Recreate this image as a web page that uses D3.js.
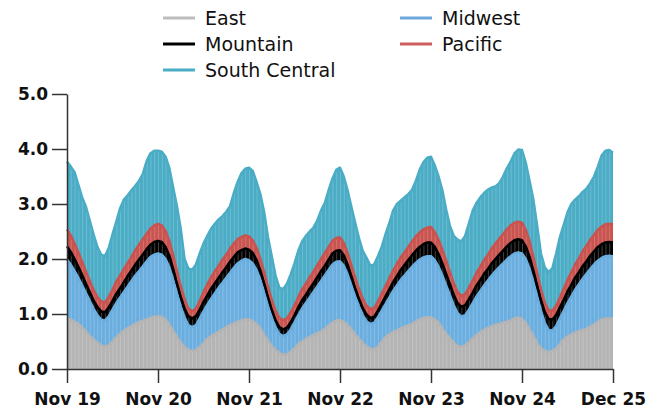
<!DOCTYPE html>
<html><head><meta charset="utf-8">
<script src="https://cdn.jsdelivr.net/npm/d3@7"></script>
<style>body{margin:0;background:#fff}svg{display:block}</style>
</head><body>
<svg id="chart" width="659" height="414"></svg>
<script>
const seriesNames = ["East", "Midwest", "Mountain", "Pacific", "South Central"];
const fillColors = ["#b4b4b4", "#6aaee0", "#000000", "#c9534f", "#4aacc5"];
const legendColors = ["#bdbdbd", "#6fa8dc", "#000000", "#cd5c5c", "#4bacc6"];
const tickHours = [0, 24, 48, 72, 96, 120, 144];
const tickLabels = ["Nov 19", "Nov 20", "Nov 21", "Nov 22", "Nov 23", "Nov 24", "Dec 25"];
const yTicks = [0, 1, 2, 3, 4, 5];

const east = [
0.92,0.9,0.86,0.82,0.76,0.68,0.6,0.54,0.48,0.43,0.41,0.43,0.5,0.58,0.64,0.7,0.74,0.78,0.82,0.85,0.88,0.9,0.93,0.95,
0.96,0.95,0.9,0.8,0.7,0.58,0.48,0.4,0.35,0.33,0.34,0.4,0.47,0.55,0.6,0.64,0.68,0.72,0.76,0.8,0.83,0.86,0.89,0.9,
0.9,0.87,0.82,0.74,0.62,0.52,0.42,0.35,0.29,0.26,0.27,0.31,0.38,0.45,0.5,0.55,0.58,0.62,0.65,0.68,0.73,0.79,0.84,0.88,
0.89,0.86,0.8,0.72,0.63,0.55,0.47,0.41,0.37,0.36,0.4,0.5,0.58,0.63,0.67,0.7,0.74,0.77,0.79,0.82,0.86,0.9,0.93,0.94,
0.94,0.9,0.84,0.74,0.64,0.56,0.48,0.42,0.4,0.43,0.49,0.56,0.62,0.67,0.71,0.75,0.78,0.8,0.82,0.84,0.86,0.88,0.92,0.94,
0.91,0.84,0.72,0.6,0.47,0.38,0.33,0.31,0.33,0.37,0.45,0.54,0.59,0.63,0.66,0.69,0.71,0.73,0.77,0.81,0.86,0.9,0.92,0.92,0.92];
const midwest = [
1.07,1.0,0.92,0.84,0.76,0.7,0.64,0.56,0.5,0.47,0.47,0.53,0.58,0.62,0.66,0.7,0.76,0.82,0.88,0.93,0.99,1.06,1.11,1.13,
1.14,1.13,1.1,1.05,0.92,0.8,0.66,0.54,0.45,0.43,0.46,0.52,0.58,0.62,0.68,0.74,0.8,0.85,0.9,0.95,1.01,1.06,1.08,1.1,
1.08,1.05,0.98,0.88,0.78,0.64,0.52,0.41,0.35,0.34,0.36,0.41,0.47,0.53,0.6,0.65,0.72,0.78,0.85,0.92,0.97,1.01,1.06,1.07,
1.07,1.02,0.92,0.8,0.69,0.59,0.51,0.46,0.45,0.48,0.54,0.56,0.6,0.67,0.75,0.82,0.88,0.93,0.99,1.04,1.07,1.09,1.1,1.11,
1.11,1.08,1.02,0.96,0.88,0.78,0.68,0.6,0.55,0.55,0.59,0.64,0.7,0.75,0.81,0.86,0.92,0.98,1.03,1.08,1.13,1.17,1.18,1.18,
1.19,1.16,1.1,0.98,0.85,0.68,0.51,0.4,0.37,0.41,0.47,0.52,0.61,0.69,0.78,0.85,0.93,1.0,1.05,1.09,1.11,1.12,1.13,1.14,1.13];
const mountain = [
0.24,0.23,0.22,0.2,0.19,0.17,0.16,0.15,0.15,0.15,0.15,0.16,0.16,0.17,0.17,0.18,0.19,0.19,0.2,0.21,0.21,0.22,0.22,0.23,
0.23,0.23,0.22,0.21,0.2,0.18,0.17,0.16,0.16,0.16,0.16,0.16,0.17,0.17,0.18,0.18,0.18,0.19,0.19,0.2,0.2,0.2,0.19,0.19,
0.19,0.19,0.18,0.17,0.16,0.15,0.14,0.13,0.12,0.12,0.12,0.13,0.13,0.14,0.15,0.15,0.16,0.16,0.17,0.18,0.18,0.19,0.2,0.2,
0.2,0.19,0.18,0.17,0.15,0.14,0.13,0.12,0.11,0.11,0.12,0.13,0.14,0.15,0.16,0.17,0.18,0.19,0.2,0.21,0.22,0.23,0.24,0.25,
0.25,0.24,0.23,0.22,0.21,0.2,0.19,0.18,0.18,0.18,0.19,0.19,0.2,0.2,0.21,0.21,0.22,0.22,0.23,0.23,0.24,0.24,0.24,0.24,
0.24,0.23,0.22,0.21,0.2,0.2,0.2,0.2,0.2,0.2,0.2,0.2,0.21,0.21,0.22,0.22,0.23,0.23,0.24,0.24,0.25,0.25,0.25,0.25,0.25];
const pacific = [
0.31,0.3,0.28,0.26,0.24,0.22,0.2,0.19,0.18,0.18,0.18,0.19,0.2,0.22,0.23,0.24,0.24,0.25,0.26,0.27,0.28,0.28,0.29,0.3,
0.31,0.3,0.29,0.27,0.25,0.22,0.2,0.17,0.14,0.13,0.14,0.16,0.18,0.2,0.21,0.22,0.22,0.23,0.23,0.24,0.24,0.24,0.24,0.24,
0.24,0.23,0.22,0.21,0.2,0.19,0.18,0.17,0.17,0.17,0.17,0.18,0.18,0.19,0.2,0.2,0.21,0.21,0.22,0.22,0.23,0.23,0.23,0.23,
0.23,0.22,0.21,0.2,0.19,0.18,0.17,0.16,0.16,0.16,0.17,0.18,0.19,0.2,0.21,0.22,0.23,0.23,0.24,0.25,0.26,0.26,0.27,0.27,
0.28,0.27,0.26,0.25,0.24,0.22,0.21,0.2,0.2,0.2,0.21,0.22,0.23,0.24,0.25,0.26,0.27,0.28,0.29,0.3,0.31,0.32,0.32,0.32,
0.32,0.3,0.28,0.25,0.22,0.19,0.17,0.16,0.16,0.17,0.18,0.2,0.21,0.23,0.24,0.25,0.27,0.28,0.29,0.3,0.31,0.32,0.33,0.33,0.33];
const southCentral = [
1.23,1.25,1.3,1.23,1.17,1.18,1.1,1.01,0.91,0.85,0.84,0.89,1.01,1.09,1.22,1.26,1.23,1.21,1.17,1.16,1.19,1.32,1.37,1.36,
1.33,1.34,1.35,1.32,1.23,1.18,1.04,0.73,0.73,0.75,0.8,0.86,0.88,0.88,0.88,0.86,0.84,0.79,0.78,0.77,0.92,1.04,1.16,1.21,
1.25,1.26,1.2,1.18,1.09,0.9,0.79,0.64,0.55,0.56,0.63,0.69,0.76,0.84,0.87,0.87,0.83,0.8,0.81,0.88,0.91,1.03,1.13,1.24,
1.27,1.21,1.14,1.06,1.0,0.92,0.87,0.87,0.79,0.79,0.82,0.85,0.94,1.0,1.09,1.09,1.03,1.0,0.96,0.94,1.01,1.14,1.22,1.27,
1.28,1.21,1.15,1.08,0.93,0.84,0.86,0.95,0.99,1.06,1.17,1.27,1.27,1.26,1.22,1.18,1.11,1.04,1.01,1.05,1.11,1.16,1.26,1.31,
1.32,1.22,1.1,1.04,0.86,0.65,0.64,0.69,0.77,0.95,1.1,1.16,1.23,1.24,1.18,1.13,1.08,1.04,1.03,1.06,1.15,1.29,1.34,1.34,1.3];

const seriesValues = [east, midwest, mountain, pacific, southCentral];
const rows = east.map((_, i) => {
  const r = { hour: i };
  seriesNames.forEach((n, k) => r[n] = seriesValues[k][i]);
  return r;
});

const svg = d3.select("#chart");
const x = d3.scaleLinear().domain([0, 144]).range([67, 613]);
const y = d3.scaleLinear().domain([0, 5]).range([369, 94]);

const stack = d3.stack().keys(seriesNames);
const layers = stack(rows);

const area = d3.area().x(d => x(d.data.hour)).y0(d => y(d[0])).y1(d => y(d[1]));
const line = d3.line().x(d => x(d.data.hour)).y(d => y(d[1]));

const plot = svg.append("g");
layers.forEach((layer, k) => {
  plot.append("path").attr("d", area(layer)).attr("fill", fillColors[k]);
});
// hourly bar stripes
layers.forEach((layer, k) => {
  plot.append("g").selectAll("line").data(layer.slice(1, 144)).join("line")
    .attr("x1", d => x(d.data.hour) + 0.5).attr("x2", d => x(d.data.hour) + 0.5)
    .attr("y1", d => y(d[0])).attr("y2", d => y(d[1]))
    .attr("stroke", "#ffffff").attr("stroke-opacity", k === 2 ? 0.25 : 0.2).attr("stroke-width", 1);
});
layers.forEach((layer, k) => {
  plot.append("path").attr("d", line(layer)).attr("fill", "none")
    .attr("stroke", fillColors[k]).attr("stroke-width", 2.5).attr("stroke-linejoin", "round");
});

// axes
const xAxis = d3.axisBottom(x).tickValues(tickHours).tickFormat((d, i) => tickLabels[i])
  .tickSize(14).tickPadding(10).tickSizeOuter(0);
const gx = svg.append("g").attr("transform", "translate(0,369)").call(xAxis);
const yAxis = d3.axisLeft(y).tickValues(yTicks).tickFormat(d3.format(".1f"))
  .tickSize(15).tickPadding(4).tickSizeOuter(0);
const gy = svg.append("g").attr("transform", "translate(67,0)").call(yAxis);
[gx, gy].forEach(g => {
  g.selectAll("path,line").attr("stroke", "#333").attr("stroke-width", 1.5);
  g.selectAll("text").attr("fill", "#111").style("font-family", "DejaVu Sans")
    .style("font-size", "17px").style("font-weight", "bold");
});

// legend
const legendPos = [[163, 18], [400, 18], [163, 44], [400, 44], [163, 70]];
const lg = svg.append("g");
seriesNames.forEach((n, k) => {
  const [lx, ly] = legendPos[k];
  lg.append("line").attr("x1", lx).attr("x2", lx + 32).attr("y1", ly).attr("y2", ly)
    .attr("stroke", legendColors[k]).attr("stroke-width", 3);
  lg.append("text").attr("x", lx + 42).attr("y", ly).attr("dy", "0.35em")
    .style("font-family", "DejaVu Sans").style("font-size", "19px").attr("fill", "#111").text(n);
});
</script>
</body></html>
